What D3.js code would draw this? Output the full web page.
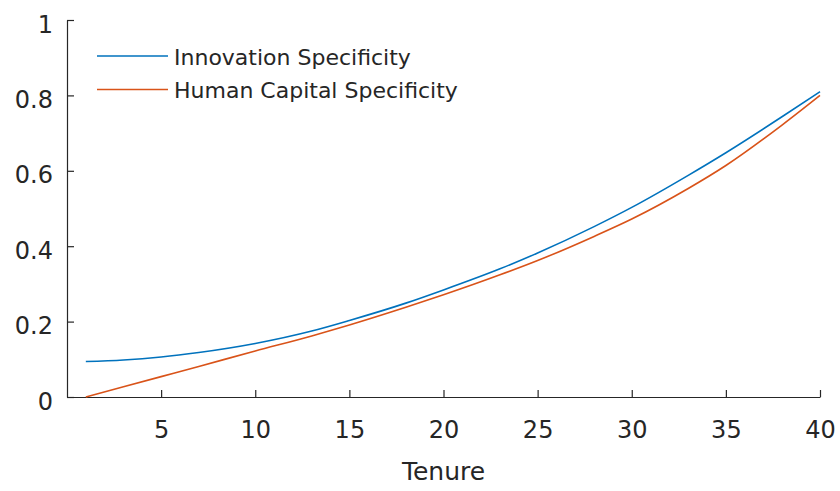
<!DOCTYPE html>
<html>
<head>
<meta charset="utf-8">
<script src="https://cdn.jsdelivr.net/npm/d3@7"></script>
<style>
  body { margin: 0; background: #fff; }
  text { font-family: "DejaVu Sans", Arial, Helvetica, sans-serif; fill: #262626; }
</style>
</head>
<body>
<div id="visual-container"></div>
<script>
// values
const tenure = [1, 3, 5, 7, 10, 13, 15, 18, 20, 23, 25, 28, 30, 33, 35, 38, 40]
const innovation = [0.094, 0.098, 0.106, 0.118, 0.142, 0.175, 0.203, 0.249, 0.284, 0.34, 0.382, 0.452, 0.503, 0.588, 0.648, 0.744, 0.81]
const humanCapital = [0.0, 0.027, 0.054, 0.081, 0.122, 0.162, 0.191, 0.238, 0.271, 0.324, 0.362, 0.426, 0.472, 0.553, 0.614, 0.722, 0.8]
const seriesNames = ['Innovation Specificity', 'Human Capital Specificity']
const colors = ['#0072BD', '#D95319']
const xTicks = [5, 10, 15, 20, 25, 30, 35, 40]
const yTicks = [0, 0.2, 0.4, 0.6, 0.8, 1]

const width = 840
const height = 491
const margin = { left: 67, right: 20, top: 20, bottom: 94 }

const svg = d3.select('#visual-container')
              .append('svg')
              .attr('width', width)
              .attr('height', height)

const xScale = d3.scaleLinear()
                 .domain([0, 40])
                 .range([margin.left, width - margin.right])

const yScale = d3.scaleLinear()
                 .domain([0, 1])
                 .range([height - margin.bottom, margin.top])

const series = [innovation, humanCapital].map((vals, i) => ({
    name: seriesNames[i],
    color: colors[i],
    points: tenure.map((t, j) => [t, vals[j]])
}))

// axes, ticks pointing inward like the original
const xAxis = d3.axisBottom(xScale)
                .tickValues(xTicks)
                .tickSizeInner(-7)
                .tickSizeOuter(0)
                .tickPadding(24)

const yAxis = d3.axisLeft(yScale)
                .tickValues(yTicks)
                .tickFormat(d3.format('~g'))
                .tickSizeInner(-7)
                .tickSizeOuter(0)
                .tickPadding(14)

const gx = svg.append('g')
   .attr('id', 'x-axis')
   .attr('transform', `translate(0, ${height - margin.bottom})`)
   .call(xAxis)

const gy = svg.append('g')
   .attr('id', 'y-axis')
   .attr('transform', `translate(${margin.left}, 0)`)
   .call(yAxis)

svg.selectAll('.domain, .tick line')
   .attr('stroke', '#262626')
   .attr('stroke-width', 1.2)

svg.selectAll('.tick text')
   .attr('font-size', 24)
   .style('font-family', '"DejaVu Sans", Arial, sans-serif')
   .attr('fill', '#262626')

gy.selectAll('.tick text').attr('dy', '0.5em')

// curves
const line = d3.line()
               .x(d => xScale(d[0]))
               .y(d => yScale(d[1]))
               .curve(d3.curveMonotoneX)

svg.selectAll('path.series')
   .data(series)
   .enter()
   .append('path')
   .attr('class', 'series')
   .attr('fill', 'none')
   .attr('stroke', d => d.color)
   .attr('stroke-width', 1.6)
   .attr('d', d => line(d.points))

// axis label
svg.append('text')
   .attr('x', xScale(20))
   .attr('y', 480)
   .attr('text-anchor', 'middle')
   .attr('font-size', 25)
   .text('Tenure')

// legend
const legend = svg.append('g')
                  .attr('transform', 'translate(97, 56)')

const items = legend.selectAll('g')
                    .data(series)
                    .enter()
                    .append('g')
                    .attr('transform', (d, i) => `translate(0, ${i * 33.5})`)

items.append('line')
     .attr('x1', 0)
     .attr('x2', 71)
     .attr('stroke', d => d.color)
     .attr('stroke-width', 1.6)

items.append('text')
     .attr('x', 77)
     .attr('y', 0)
     .attr('dy', '0.4em')
     .attr('font-size', 22)
     .text(d => d.name)
</script>
</body>
</html>
